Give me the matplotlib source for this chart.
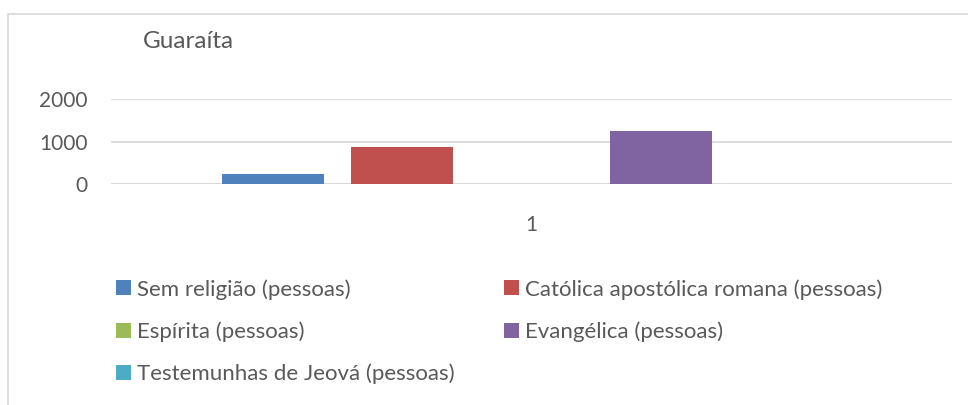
import matplotlib.pyplot as plt
from matplotlib.patches import Rectangle, Patch

# Dados (uma única categoria "1")
categorias = ["1"]
series = ["Sem religião (pessoas)", "Católica apostólica romana (pessoas)",
          "Espírita (pessoas)", "Evangélica (pessoas)",
          "Testemunhas de Jeová (pessoas)"]
valores = [231, 874, 0, 1255, 0]
cores = ["#4F81BD", "#C0504D", "#9BBB59", "#8064A2", "#4BACC6"]
yticks = [0, 1000, 2000]

W, H = 968, 405
plt.rcParams['font.family'] = ['Lato', 'DejaVu Sans']
fig = plt.figure(figsize=(W / 100, H / 100), dpi=100)

# borda do gráfico (estilo Excel)
fig.patches.append(Rectangle((8 / W, -0.1), 1.2, 1 - 14 / H + 0.1,
                             transform=fig.transFigure, fill=False,
                             edgecolor="#d9d9d9", linewidth=1.2))

# área do gráfico em pixels
x0, x1, y_top, y_zero = 111, 952, 99, 184
ax = fig.add_axes([x0 / W, 1 - y_zero / H, (x1 - x0) / W, (y_zero - y_top) / H])

passo = 0.1534
largura = 0.1213
n = len(series)
for i, (s, v, c) in enumerate(zip(series, valores, cores)):
    ax.bar(0 + (i - (n - 1) / 2) * passo, v, width=largura, color=c, label=s, zorder=3)

ax.set_xlim(-0.5, 0.5)
ax.set_ylim(0, 2000)
ax.set_yticks(yticks)
ax.set_yticklabels([str(t) for t in yticks])
ax.set_xticks([0])
ax.set_xticklabels(categorias)
ax.grid(axis='y', color="#d9d9d9", linewidth=1.3, zorder=0)
for sp in ax.spines.values():
    sp.set_visible(False)
ax.axhline(0, color="#d9d9d9", linewidth=1.3, zorder=1)
ax.tick_params(axis='both', length=0, labelsize=15, labelcolor="#595959")
ax.tick_params(axis='y', pad=17)
ax.tick_params(axis='x', pad=22)

fig.text(143 / W, 1 - 42 / H, "Guaraíta", fontsize=17.5, color="#595959",
         ha='left', va='center')

# legenda em 2 colunas, ordem por linha
ordem = [0, 2, 4, 1, 3]
handles = [Patch(facecolor=cores[i]) for i in ordem]
labels = [series[i] for i in ordem]
fig.legend(handles, labels, loc='upper left', bbox_to_anchor=(116 / W, 1 - 279 / H),
           ncol=2, frameon=False, fontsize=16, labelcolor="#595959",
           handlelength=0.68, handleheight=0.68, handletextpad=0.27,
           columnspacing=2.2, labelspacing=0.98, borderpad=0, borderaxespad=0)

fig.savefig("out.png", dpi=100)
